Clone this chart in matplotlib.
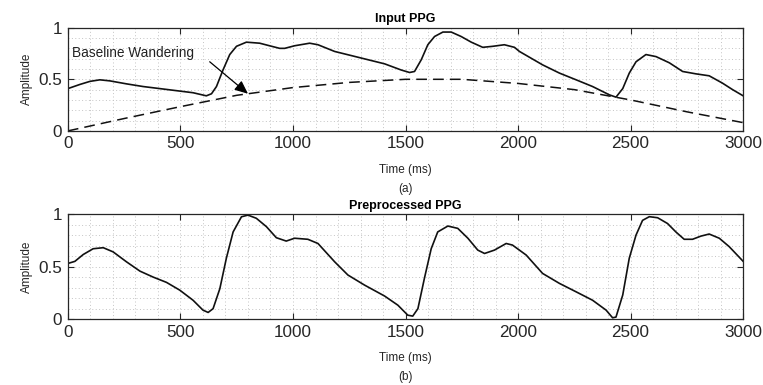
import numpy as np
import matplotlib.pyplot as plt
from matplotlib.ticker import MultipleLocator

plt.rcParams['font.family'] = ['Liberation Sans', 'DejaVu Sans']

# input PPG (ms, amplitude)
t_in = [0, 53, 98, 142, 186, 260, 334, 408, 482, 556, 615, 638, 660, 689, 719,
        749, 793, 852, 896, 941, 963, 1007, 1074, 1111, 1185, 1259, 1333, 1407,
        1481, 1518, 1540, 1570, 1599, 1629, 1666, 1703, 1747, 1792, 1843, 1888,
        1939, 1984, 2006, 2109, 2184, 2258, 2331, 2405, 2435, 2465, 2494, 2524,
        2568, 2613, 2672, 2731, 2790, 2849, 2908, 2953, 3000]
amp_in = [0.41, 0.45, 0.48, 0.495, 0.485, 0.456, 0.43, 0.41, 0.39, 0.37, 0.34,
          0.36, 0.43, 0.59, 0.74, 0.82, 0.86, 0.85, 0.825, 0.80, 0.80, 0.825,
          0.85, 0.835, 0.77, 0.73, 0.69, 0.65, 0.59, 0.566, 0.576, 0.69, 0.835,
          0.915, 0.958, 0.958, 0.915, 0.86, 0.81, 0.82, 0.835, 0.81, 0.77, 0.64,
          0.56, 0.495, 0.43, 0.35, 0.327, 0.41, 0.56, 0.67, 0.74, 0.72, 0.66,
          0.576, 0.553, 0.534, 0.463, 0.40, 0.34]

# baseline wandering
t_base = [0, 250, 500, 750, 1000, 1250, 1500, 1750, 2000, 2250, 2500, 2750, 3000]
amp_base = [0.0, 0.12, 0.235, 0.345, 0.42, 0.47, 0.50, 0.50, 0.46, 0.40, 0.30, 0.185, 0.08]

# preprocessed PPG
t_pre = [0, 31, 68, 112, 157, 201, 260, 320, 379, 438, 497, 556, 600, 623, 645,
         675, 704, 734, 771, 800, 837, 882, 926, 970, 1007, 1066, 1111, 1185,
         1244, 1318, 1407, 1466, 1510, 1532, 1555, 1584, 1614, 1643, 1688, 1732,
         1777, 1821, 1851, 1895, 1947, 1975, 2036, 2109, 2184, 2258, 2331, 2391,
         2420, 2435, 2465, 2494, 2524, 2553, 2583, 2620, 2664, 2701, 2738, 2775,
         2812, 2849, 2894, 2938, 3000]
amp_pre = [0.53, 0.55, 0.615, 0.67, 0.68, 0.64, 0.546, 0.457, 0.40, 0.35, 0.276,
           0.18, 0.086, 0.064, 0.10, 0.29, 0.58, 0.83, 0.974, 0.99, 0.96, 0.88,
           0.775, 0.743, 0.77, 0.76, 0.72, 0.546, 0.42, 0.324, 0.22, 0.133, 0.038,
           0.029, 0.10, 0.39, 0.67, 0.83, 0.886, 0.864, 0.77, 0.657, 0.625, 0.657,
           0.72, 0.705, 0.61, 0.435, 0.34, 0.26, 0.18, 0.086, 0.013, 0.02, 0.23,
           0.58, 0.80, 0.94, 0.975, 0.965, 0.91, 0.83, 0.76, 0.76, 0.79, 0.81,
           0.77, 0.69, 0.55]

fig = plt.figure(figsize=(7.63, 3.85), dpi=100)
ax1 = fig.add_axes([0.089, 0.660, 0.885, 0.268])
ax2 = fig.add_axes([0.089, 0.171, 0.885, 0.273])

def style(ax, title, tag):
    ax.set_xlim(0, 3000)
    ax.set_ylim(0, 1)
    ax.set_xticks([0, 500, 1000, 1500, 2000, 2500, 3000])
    ax.set_yticks([0, 0.5, 1])
    ax.set_yticklabels(['0', '0.5', '1'])
    ax.xaxis.set_minor_locator(MultipleLocator(100))
    ax.yaxis.set_minor_locator(MultipleLocator(0.1))
    ax.grid(True, which='both', color='#c4c4c4', linestyle=(0, (1, 2.5)), linewidth=0.7)
    ax.tick_params(which='major', direction='in', top=True, right=True,
                   length=4, labelsize=12.3, colors='#262626', pad=4)
    ax.tick_params(which='minor', length=0, top=True, right=True)
    for s in ax.spines.values():
        s.set_color('#262626')
        s.set_linewidth(0.9)
    ax.set_title(title, fontsize=9, fontweight='bold', pad=4)
    ax.set_ylabel('Amplitude', fontsize=8.5, color='#262626', labelpad=4)
    ax.set_xlabel('Time (ms)\n' + tag, fontsize=8.5, color='#262626',
                  labelpad=9, linespacing=1.75)

ax1.plot(t_in, amp_in, color='#111111', linewidth=1.2)
ax1.plot(t_base, amp_base, color='#111111', linewidth=1.1, dashes=(7, 4))
ax1.text(16, 0.755, 'Baseline Wandering', fontsize=9.8, ha='left', va='center',
         color='#222222')
ax1.annotate('', xy=(800, 0.36), xytext=(630, 0.67),
             arrowprops=dict(arrowstyle='-|>,head_length=0.8,head_width=0.35',
                             color='black', lw=0.9, shrinkA=0, shrinkB=0))
style(ax1, 'Input PPG', '(a)')

ax2.plot(t_pre, amp_pre, color='#111111', linewidth=1.2)
style(ax2, 'Preprocessed PPG', '(b)')

fig.savefig('out.png', dpi=100)
